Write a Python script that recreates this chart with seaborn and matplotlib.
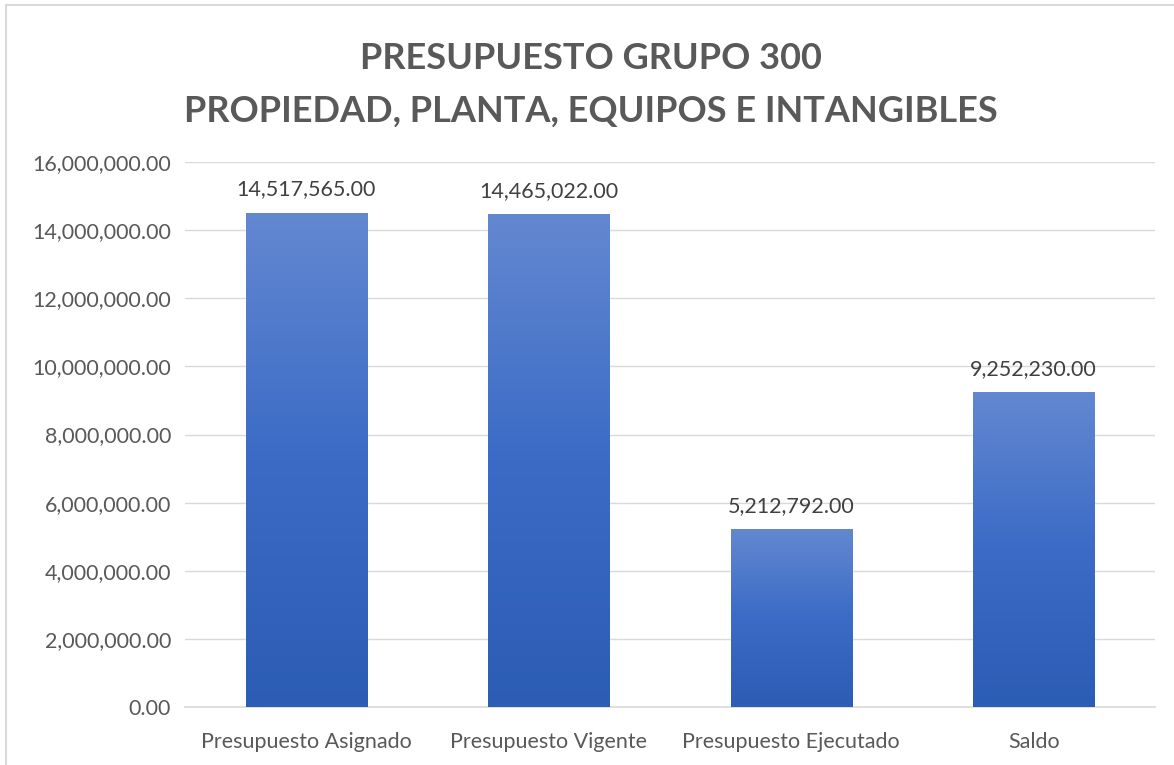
import matplotlib
matplotlib.use("Agg")
import matplotlib.pyplot as plt
import seaborn as sns
import numpy as np
import pandas as pd
from matplotlib.colors import LinearSegmentedColormap
from matplotlib.patches import Rectangle

# Data
categorias = ["Presupuesto Asignado", "Presupuesto Vigente", "Presupuesto Ejecutado", "Saldo"]
montos = [14517565.00, 14465022.00, 5212792.00, 9252230.00]
ticks_y = [0, 2000000, 4000000, 6000000, 8000000, 10000000, 12000000, 14000000, 16000000]

sns.set_style("white")
plt.rcParams['font.family'] = ['Lato', 'DejaVu Sans']

gris = '#595959'

fig = plt.figure(figsize=(11.74, 7.65), dpi=100)
ax = fig.add_axes([0.1576, 0.0758, 0.8262, 0.7124])

df = pd.DataFrame({'categoria': categorias, 'monto': montos})
sns.barplot(data=df, x='categoria', y='monto', color='#4472C4', width=0.5, ax=ax, zorder=3)

# gradient fill over each bar
grad = LinearSegmentedColormap.from_list('g', ['#2C5DB4', '#3B6BC6', '#6388D0'])
img = np.linspace(0, 1, 256).reshape(-1, 1)
for bar in ax.patches:
    x0, y0 = bar.get_x(), bar.get_y()
    w, h = bar.get_width(), bar.get_height()
    im = ax.imshow(img, cmap=grad, aspect='auto', origin='lower',
                   extent=[x0, x0 + w, y0, y0 + h], zorder=4)
    im.set_clip_path(bar)
    ax.text(x0 + w / 2, h + 380000, f'{h:,.2f}', ha='center', va='bottom',
            fontsize=15.5, color='#404040', zorder=5)

ax.set_xlim(-0.5, 3.5)
ax.set_ylim(0, 16000000)
ax.set_yticks(ticks_y)
ax.set_yticklabels([f'{v:,.2f}' for v in ticks_y])
ax.yaxis.grid(True, color='#D9D9D9', linewidth=1, zorder=0)
ax.set_axisbelow(True)
for s in ['top', 'right', 'left']:
    ax.spines[s].set_visible(False)
ax.spines['bottom'].set_color('#D9D9D9')
ax.spines['bottom'].set_linewidth(1.2)
ax.tick_params(axis='both', length=0, labelsize=15.5, labelcolor=gris, pad=10)
ax.tick_params(axis='x', pad=18)
ax.set_xlabel('')
ax.set_ylabel('')

fig.text(0.5035, 0.923, 'PRESUPUESTO GRUPO 300', ha='center', va='center',
         fontsize=26, fontweight='bold', color=gris)
fig.text(0.5035, 0.855, 'PROPIEDAD, PLANTA, EQUIPOS E INTANGIBLES', ha='center', va='center',
         fontsize=26, fontweight='bold', color=gris)

# chart frame
fig.patches.append(Rectangle((6 / 1174, -0.1), 1.2, 1 - 5 / 765 + 0.1, transform=fig.transFigure,
                             fill=False, edgecolor='#D9D9D9', linewidth=1.5))

fig.savefig('out.png', dpi=100)
